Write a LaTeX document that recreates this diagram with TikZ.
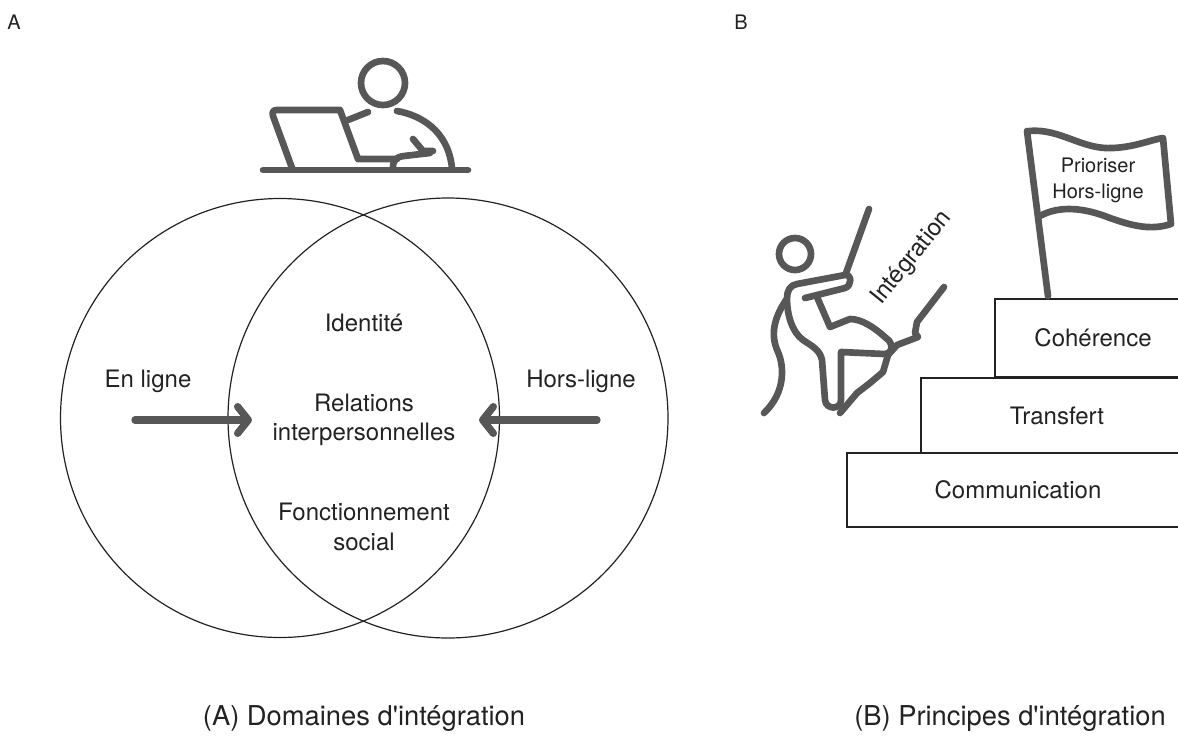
\documentclass[tikz,border=0pt]{standalone}
\usepackage{fontspec}
\setmainfont{TeX Gyre Heros}
\usetikzlibrary{arrows.meta}
\definecolor{ink}{HTML}{222222}
\definecolor{icon}{HTML}{575757}
\begin{document}
\begin{tikzpicture}[x=0.75pt,y=-0.75pt,
  txt/.style={text=ink,font=\fontsize{18}{22}\selectfont,align=center,inner sep=0pt},
  small/.style={text=ink,font=\fontsize{15}{19.5}\selectfont,align=center,inner sep=0pt},
  tag/.style={text=ink,font=\fontsize{15}{18}\selectfont,inner sep=0pt},
  caption/.style={text=ink,font=\fontsize{20.5}{24}\selectfont,inner sep=0pt},
  ring/.style={draw=ink,line width=0.9pt},
  ico/.style={draw=icon,line width=5pt,line cap=round,line join=round},
  flow/.style={draw=icon,line width=5.5pt,line cap=round,
    -{Straight Barb[length=8pt,width=20pt,line cap=round,line join=round]}},
  stepbox/.style={draw=ink,line width=0.9pt,fill=white,text=ink,
    font=\fontsize{18}{22}\selectfont,inner sep=0pt}]
\useasboundingbox (0,0) rectangle (1178,740);

% ---------- panel A ----------
\node[tag] (la) at (14,22) {A};

% person working at a laptop
\draw[ico] (383,83) circle[radius=22];
\draw[ico] (263,170) -- (468,170);
\draw[ico] (292,168) -- (273,116) .. controls (272,112) and (273,110) .. (277,110)
  -- (340,110) -- (358,159) -- (397,159);
\draw[ico] (348,120) -- (368,112);
\draw[ico] (397,111) .. controls (420,115) and (448,130) .. (452,168);
\draw[ico] (413,139) -- (423,151) -- (433,151);
\draw[ico] (393,168) .. controls (393,160) and (396,157) .. (404,156) -- (430,153);

% the two domains
\draw[ring] (280,418) circle[radius=219.5];
\draw[ring] (448,418) circle[radius=220];

\node[txt] (idn) at (364,323) {Identité};
\node[txt] (rel) at (364,420) {Relations\\interpersonnelles};
\node[txt] (soc) at (364,527) {Fonctionnement\\social};
\node[txt] (onl) at (148,381) {En ligne};
\node[txt] (ofl) at (581,381) {Hors-ligne};

\coordinate (onl-s) at (135,420);
\coordinate (onl-e) at (252,420);
\coordinate (ofl-s) at (597,420);
\coordinate (ofl-e) at (479,420);
\draw[flow] (onl-s) -- (onl-e);
\draw[flow] (ofl-s) -- (ofl-e);

\node[caption] (capa) at (364,719) {(A) Domaines d\textquotesingle intégration};

% ---------- panel B ----------
\node[tag] (lb) at (741,22) {B};

% steps (sizes in pt: 1 px = 0.75 pt)
\node[stepbox,minimum width=256.5pt,minimum height=55.5pt] (comm) at (1018,490) {Communication};
\node[stepbox,minimum width=204pt,minimum height=56.25pt] (trans) at (1057,415.5) {Transfert};
\node[stepbox,minimum width=147pt,minimum height=58.5pt] (coh) at (1093,338) {Cohérence};

% flag on the top step
\draw[ico] (1027,131) -- (1048,296);
\draw[ico] (1029,131) .. controls (1060,128) and (1082,150) .. (1113,148)
  .. controls (1135,147) and (1150,140) .. (1163,138) -- (1171,224)
  .. controls (1150,231) and (1130,225) .. (1110,218)
  .. controls (1085,208) and (1060,205) .. (1040,216);
\node[small] (prio) at (1098,180) {Prioriser\\Hors-ligne};

% climber on the rope
\draw[ico] (795,254) circle[radius=16];
\draw[ico] (869,209) -- (846,273);
\draw[ico] (805,298) -- (845,288) .. controls (852,286) and (852,274) .. (845,275)
  -- (797,284) .. controls (790,285) and (787,291) .. (787,298)
  .. controls (787,315) and (792,332) .. (803,340)
  .. controls (812,346) and (820,350) .. (822,360) -- (825,400)
  .. controls (826,410) and (841,410) .. (841,400) -- (841,352)
  -- (884,354) .. controls (893,354) and (894,343) .. (886,338)
  .. controls (875,328) and (862,319) .. (850,319) -- (830,327) -- (817,297);
\draw[ico] (786,300) .. controls (774,318) and (770,335) .. (778,352)
  .. controls (784,366) and (786,392) .. (764,413);
\draw[ico] (944,287) -- (917,322) -- (915,333) -- (918,337) -- (897,345)
  -- (888,355) -- (883,372) -- (870,383) -- (857,393) -- (840,413);
\node[txt,rotate=51] (intg) at (912,258) {Intégration};

\node[caption] (capb) at (1010,719) {(B) Principes d\textquotesingle intégration};
\end{tikzpicture}
\end{document}
